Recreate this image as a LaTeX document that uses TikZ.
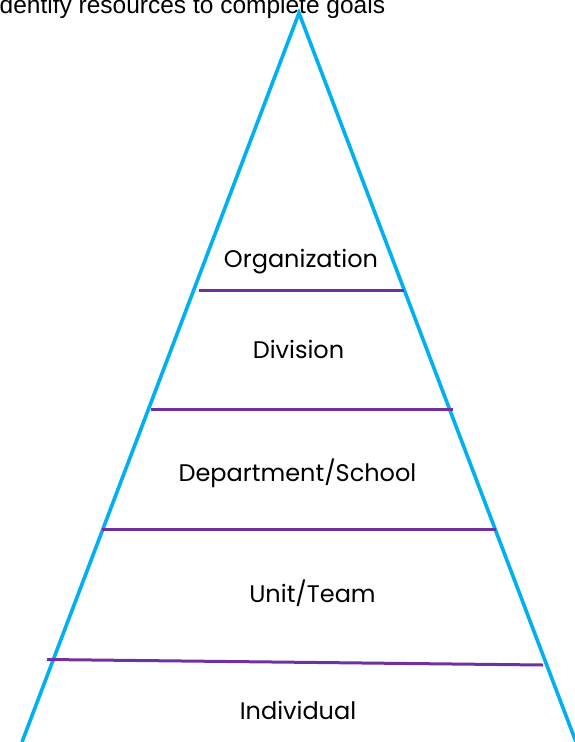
\documentclass[tikz,border=0pt]{standalone}
\usepackage{fontspec}
\setmainfont{Liberation Sans}
\newfontfamily\tierfont{Poppins}
\usetikzlibrary{positioning}

\definecolor{sideblue}{RGB}{0,176,240}
\definecolor{tierpurple}{RGB}{112,48,160}

\begin{document}
\begin{tikzpicture}[
    x=1pt, y=-1pt,
    side/.style={draw=sideblue, line width=3.6pt},
    tier/.style={draw=tierpurple, line width=3pt},
    tiertext/.style={font=\tierfont\fontsize{24}{28}\selectfont, anchor=base, inner sep=0pt},
    goaltext/.style={font=\fontsize{24.5}{28}\selectfont, anchor=base west, inner sep=0pt}
]
\useasboundingbox (0,0) rectangle (575,742);

% heading, cut at the top edge
\node[goaltext] (goal) at (-0.5,13.5) {dentify resources to complete goals};

% pyramid sides
\coordinate (apex) at (299,13);
\coordinate (baseL) at (22,742);
\coordinate (baseR) at (576,742);
\draw[side] (baseL) -- (apex) -- (baseR);

% dividers between the levels
\coordinate (t1L) at (199,290);   \coordinate (t1R) at (404,290);
\coordinate (t2L) at (151,409);   \coordinate (t2R) at (453,409);
\coordinate (t3L) at (102,529);   \coordinate (t3R) at (496,529);
\coordinate (t4L) at (47,659.5);  \coordinate (t4R) at (543,665);
\draw[tier] (t1L) -- (t1R);
\draw[tier] (t2L) -- (t2R);
\draw[tier] (t3L) -- (t3R);
\draw[tier] (t4L) -- (t4R);

% level names
\node[tiertext] (org) at (301,267) {Organization};
\node[tiertext] (div) at (298.5,358) {Division};
\node[tiertext] (dept) at (297.5,481.5) {Department/School};
\node[tiertext] (unit) at (312.5,602.5) {Unit/Team};
\node[tiertext] (indiv) at (298,719) {Individual};
\end{tikzpicture}
\end{document}
